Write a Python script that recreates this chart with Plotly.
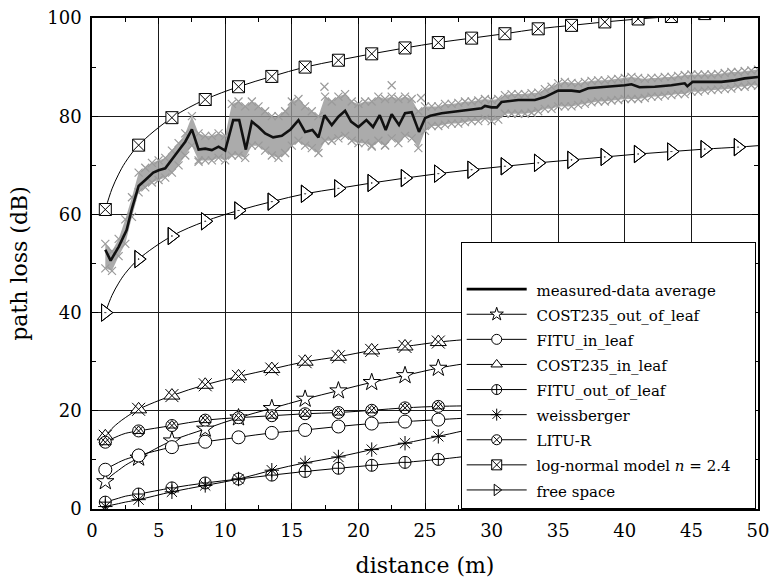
import plotly.graph_objects as go

FONT = "DejaVu Serif, Liberation Serif, serif"

# ---------------- measured data ----------------
avg_x = [1.0, 1.4, 2.0, 2.6, 3.0, 3.5, 4.0, 4.6, 5.0, 5.5, 6.25, 7.0, 7.5, 8.0, 8.5, 9.0, 9.5, 10.0,
         10.6, 11.05, 11.55, 12.0, 12.5, 13.0, 13.6, 14.25, 14.9, 15.5, 16.0, 16.55, 17.0, 17.45,
         18.0, 18.5, 19.0, 19.45, 20.0, 20.6, 21.1, 21.6, 22.05, 22.5, 23.05, 23.5, 24.0, 24.55,
         25.0, 25.4, 26.25, 27.25, 28.25, 29.25, 29.5, 30.0, 30.4, 30.75, 32.0, 33.25, 34.0, 34.5,
         35.0, 36.0, 36.6, 37.25, 38.25, 39.0, 40.0, 40.5, 41.1, 42.25, 43.5, 44.5, 44.7, 45.1,
         46.0, 47.25, 48.25, 49.0, 50.0]
avg_y = [52.8, 50.6, 53.4, 56.8, 61.2, 65.8, 67.0, 68.5, 69.0, 69.4, 72.1, 74.8, 77.3, 73.2, 73.4,
         73.1, 73.8, 73.0, 79.2, 79.2, 73.2, 78.9, 77.8, 76.5, 75.7, 76.0, 77.3, 79.2, 76.8, 77.2,
         75.7, 80.2, 78.2, 79.9, 81.1, 78.9, 77.8, 79.2, 77.8, 80.2, 77.2, 80.4, 78.2, 80.6, 80.8,
         76.8, 79.6, 80.1, 80.6, 80.9, 81.2, 81.6, 82.1, 81.8, 81.8, 82.9, 83.3, 83.3, 83.9, 84.5,
         85.2, 85.2, 85.0, 85.7, 85.9, 86.0, 86.3, 86.5, 85.9, 86.0, 86.3, 86.7, 86.1, 87.0, 87.0,
         87.0, 87.3, 87.7, 88.0]

# sampling positions of the measured scatter band (every 0.5 m)
cloud_x = [1.0 + 0.5 * i for i in range(99)]
cloud_hi = [54, 52.5, 55, 59, 63.5, 68.5, 69.5, 70.5, 71, 71.5,
            73, 74.5, 76.5, 80, 76.5, 76, 76, 76.5, 76, 82.5,
            83, 82, 83, 82, 81, 80, 80, 81, 83, 83.5,
            82, 81, 80, 84, 83, 84, 84.5, 83, 82.5, 83,
            83, 84, 83.5, 84, 83.5, 84, 83.5, 81, 82, 82,
            82, 82.5, 82.5, 82.7, 83, 83, 83.2, 83.5, 83.3, 83.5,
            84.3, 84.5, 84.5, 84.5, 84.7, 84.8, 85.5, 86, 86.7, 87,
            86.8, 86.7, 87, 87.2, 87.3, 87.3, 87.5, 87.6, 87.8, 88,
            87.8, 87.6, 87.8, 87.8, 88, 88, 88.2, 88.4, 88.5, 88.5,
            88.5, 88.5, 88.6, 88.8, 89, 89, 89.2, 89.3, 89.5]
cloud_lo = [49, 48.5, 51.5, 54, 59.5, 64.5, 65.5, 66.5, 67, 67.5,
            68.5, 70, 72, 74, 71, 71, 71, 71.5, 71, 72,
            72, 71.5, 74, 74, 73, 72, 71.5, 72.5, 74, 75,
            74, 73.5, 72.5, 75, 75, 75.5, 76, 75, 74.5, 74.5,
            74, 75, 74, 75.5, 74.5, 76, 75.5, 73.5, 77, 78,
            78, 78.3, 78.5, 78.5, 78.8, 79, 79, 79.5, 79, 79.3,
            80.5, 80.5, 80.5, 80.5, 80.7, 81, 81.5, 81.5, 82, 82,
            82, 82.3, 82.5, 82.8, 83, 83, 83.2, 83.3, 83.5, 83.5,
            83.5, 83.7, 84, 84, 84.2, 84.3, 84.5, 84.5, 85, 85,
            85.2, 85.3, 85.4, 85.5, 85.6, 86, 86, 86.3, 86.2]
outlier_x = [8.0, 17.45, 21.0, 22.0, 22.5, 24.7]
outlier_y = [70.7, 86.0, 73.8, 74.1, 86.3, 83.7]

# ---------------- model curves ----------------
marker_x = [1, 3.5, 6, 8.5, 11, 13.5, 16, 18.5, 21, 23.5, 26, 28.5, 31, 33.5, 36, 38.5, 41, 43.5, 46, 48.5]

up_line_x = [1, 1.5, 2, 2.5, 3.5, 6, 8.5, 11, 13.5, 16, 18.5, 21, 23.5, 26, 28.5, 31, 33.5, 36,
             38.5, 41, 43.5, 46, 48.5, 50]
lognormal_line = [61.0, 65.2, 68.2, 70.6, 74.1, 79.7, 83.4, 86.0, 88.1, 90.0, 91.4, 92.7, 93.9,
                  95.0, 95.9, 96.8, 97.8, 98.5, 99.2, 99.8, 100.3, 100.9, 101.5, 101.8]
freespace_line = [40.0, 43.5, 46.0, 48.0, 50.9, 55.6, 58.6, 60.8, 62.6, 64.2, 65.3, 66.4, 67.4,
                  68.3, 69.1, 69.8, 70.5, 71.1, 71.7, 72.3, 72.8, 73.3, 73.7, 74.0]

low_line_x = [1, 1.5, 2, 2.5, 3.5, 6, 8.5, 11, 13.5, 16, 18.5, 21, 23.5, 26, 28]
cost_out_line = [5.6, 6.9, 7.9, 8.9, 10.4, 13.9, 16.3, 18.6, 20.5, 22.4, 24.1, 25.8, 27.2, 28.7, 29.6]
fitu_in_line = [8.0, 8.8, 9.5, 10.1, 10.9, 12.6, 13.7, 14.6, 15.5, 16.1, 16.8, 17.4, 17.8, 18.2, 18.5]
cost_in_line = [14.8, 16.4, 17.6, 18.6, 20.3, 23.1, 25.3, 27.0, 28.5, 30.0, 31.0, 32.3, 33.1, 34.0, 34.5]
fitu_out_line = [1.4, 1.8, 2.2, 2.6, 3.05, 4.3, 5.3, 6.1, 6.9, 7.65, 8.3, 8.9, 9.5, 10.1, 10.7]
weiss_line = [0.5, 0.8, 1.1, 1.4, 1.9, 3.5, 4.8, 6.1, 7.9, 9.4, 10.6, 12.1, 13.4, 14.8, 16.0]
litu_line = [13.6, 14.3, 14.9, 15.4, 15.9, 17.0, 18.1, 18.6, 19.0, 19.4, 19.65, 20.1, 20.6, 20.9, 21.0]

legend_names = ["measured-data average", "COST235_out_of_leaf", "FITU_in_leaf", "COST235_in_leaf",
                "FITU_out_of_leaf", "weissberger", "LITU-R", "log-normal model <i>n</i> = 2.4",
                "free space"]

fig = go.Figure()

# scatter band of measurements
fig.add_trace(go.Scatter(x=cloud_x, y=cloud_lo, mode="lines", line=dict(width=0, color="#a0a0a0"),
                         showlegend=False, hoverinfo="skip"))
fig.add_trace(go.Scatter(x=cloud_x, y=cloud_hi, mode="lines", line=dict(width=0, color="#a0a0a0"),
                         fill="tonexty", fillcolor="rgba(150,150,150,0.8)", showlegend=False,
                         hoverinfo="skip"))
cloud_marker = dict(symbol="x-thin-open", size=8, color="#9a9a9a", line=dict(width=1.2, color="#9a9a9a"))
for ys in (cloud_lo, cloud_hi):
    fig.add_trace(go.Scatter(x=cloud_x, y=ys, mode="markers", marker=cloud_marker,
                             showlegend=False, hoverinfo="skip"))
fig.add_trace(go.Scatter(x=outlier_x, y=outlier_y, mode="markers", marker=cloud_marker,
                         showlegend=False))


def mk(sym, size):
    """marker style: filled symbols get white fill, '-open' symbols are stroked in black"""
    if "open" in sym:
        return dict(symbol=sym, size=size, color="black", line=dict(color="black", width=1))
    return dict(symbol=sym, size=size, color="white", line=dict(color="black", width=1))


def add_model(name, lx, ly, symbols, sizes):
    fig.add_trace(go.Scatter(x=lx, y=ly, mode="lines", line=dict(color="black", width=1, shape="spline"),
                             showlegend=False, legendgroup=name, hoverinfo="skip"))
    mx = [x for x in lx if x in marker_x]
    my = [y for x, y in zip(lx, ly) if x in marker_x]
    for sym, sz in zip(symbols, sizes):
        fig.add_trace(go.Scatter(x=mx, y=my, mode="markers", legendgroup=name, showlegend=False,
                                 marker=mk(sym, sz), hoverinfo="skip"))


add_model(legend_names[1], low_line_x, cost_out_line, ["star"], [13])
add_model(legend_names[2], low_line_x, fitu_in_line, ["circle"], [13])
add_model(legend_names[3], low_line_x, cost_in_line, ["triangle-up", "x-thin-open"], [14, 13])
add_model(legend_names[4], low_line_x, fitu_out_line, ["circle-cross"], [12])
add_model(legend_names[5], low_line_x, weiss_line, ["asterisk-open"], [12])
add_model(legend_names[6], low_line_x, litu_line, ["circle-x", "triangle-up-open"], [12, 10])
add_model(legend_names[7], up_line_x, lognormal_line, ["square-x"], [12])
add_model(legend_names[8], up_line_x, freespace_line, ["triangle-right", "triangle-right-open-dot"], [15, 15])

# measured average on top of the band
fig.add_trace(go.Scatter(x=avg_x, y=avg_y, mode="lines", line=dict(color="#111111", width=2.6),
                         name=legend_names[0], showlegend=False, legendgroup=legend_names[0]))

# legend entries (text drawn at 15px, row spacing computed from the 17px legend font)
legend_syms = [None, "star", "circle", "triangle-up", "circle-cross",
               "asterisk-open", "circle-x", "square-x", "triangle-right-open-dot"]
pad = "\u00a0" * 4
for nm, sym in zip(legend_names, legend_syms):
    label = ('<span style="font-size:15px">\u00a0' + nm + (pad if "log-normal" in nm else "")
             + "</span>")
    if sym is None:
        fig.add_trace(go.Scatter(x=[None], y=[None], mode="lines", name=label, legendgroup=nm,
                                 line=dict(color="black", width=2.6)))
    else:
        fig.add_trace(go.Scatter(x=[None], y=[None], mode="lines+markers", name=label, legendgroup=nm,
                                 line=dict(color="black", width=1), marker=mk(sym, 10)))

axis_common = dict(showline=True, linecolor="black", linewidth=1.5, mirror="ticks",
                   ticks="inside", ticklen=6, tickwidth=1, tickcolor="black",
                   showgrid=True, gridcolor="#1a1a1a", gridwidth=1, zeroline=False,
                   automargin=False, ticklabeloverflow="allow", ticklabelstandoff=5,
                   tickfont=dict(family=FONT, size=18, color="black"))

fig.update_xaxes(range=[0, 50], dtick=5, tick0=0,
                 minor=dict(dtick=2.5, ticks="inside", ticklen=4, tickcolor="black", showgrid=False),
                 title=dict(text="distance (m)", font=dict(family=FONT, size=22, color="black"), standoff=17),
                 **axis_common)
fig.update_yaxes(range=[0, 100], dtick=20, tick0=0,
                 minor=dict(dtick=10, ticks="inside", ticklen=4, tickcolor="black", showgrid=False),
                 title=dict(text="path loss (dB)", font=dict(family=FONT, size=22, color="black"), standoff=14),
                 **axis_common)

fig.update_layout(
    width=771, height=583,
    margin=dict(l=92, r=13, t=18, b=74),
    paper_bgcolor="white", plot_bgcolor="white",
    font=dict(family=FONT, color="black"),
    showlegend=True,
    legend=dict(x=0.5536, y=0, xanchor="left", yanchor="bottom",
                bgcolor="white", bordercolor="black", borderwidth=1,
                font=dict(family=FONT, size=17, color="black"),
                itemwidth=60, tracegroupgap=0,
                title=dict(text="\u00a0", font=dict(size=22))),
)

fig.write_html("out.html", config={"displayModeBar": False},
               post_script="document.body.style.margin='0px';")
